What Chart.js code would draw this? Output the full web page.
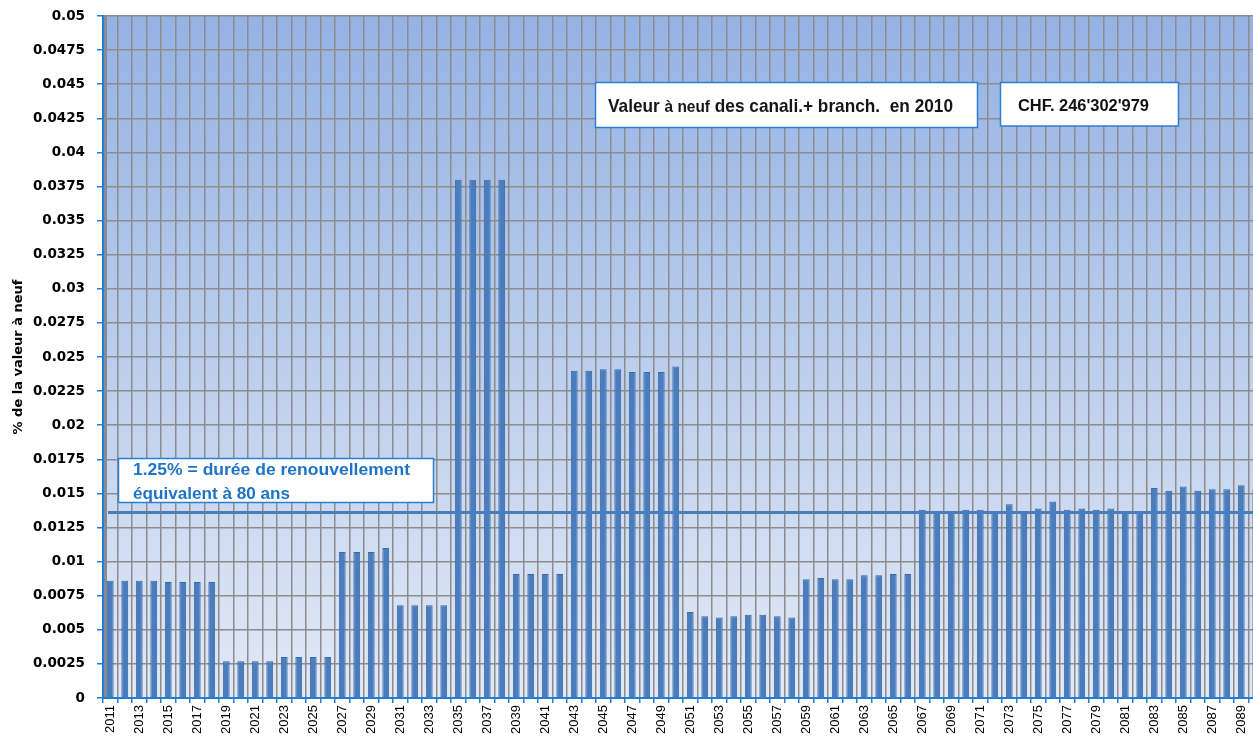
<!DOCTYPE html>
<html><head><meta charset="utf-8">
<script src="https://cdn.jsdelivr.net/npm/chart.js@4.4.1/dist/chart.umd.min.js"></script>
<style>
html,body{margin:0;padding:0;overflow:hidden;background:#fff;width:1253px;height:736px}
#wrap{position:absolute;left:0;top:0;width:1264px;height:736px}
canvas{display:block}
</style>
</head><body><div id="wrap"><canvas id="c" width="1264" height="736"></canvas></div>
<script>
const years = ['2011','2012','2013','2014','2015','2016','2017','2018','2019','2020',
  '2021','2022','2023','2024','2025','2026','2027','2028','2029','2030',
  '2031','2032','2033','2034','2035','2036','2037','2038','2039','2040',
  '2041','2042','2043','2044','2045','2046','2047','2048','2049','2050',
  '2051','2052','2053','2054','2055','2056','2057','2058','2059','2060',
  '2061','2062','2063','2064','2065','2066','2067','2068','2069','2070',
  '2071','2072','2073','2074','2075','2076','2077','2078','2079','2080',
  '2081','2082','2083','2084','2085','2086','2087','2088','2089','2090'];
const shareOfValue = [0.0086,0.0086,0.0086,0.0086,0.0085,0.0085,0.0085,0.0085,0.0027,0.0027,
  0.0027,0.0027,0.0030,0.0030,0.0030,0.0030,0.0107,0.0107,0.0107,0.0110,
  0.0068,0.0068,0.0068,0.0068,0.0380,0.0380,0.0380,0.0380,0.0091,0.0091,
  0.0091,0.0091,0.0240,0.0240,0.0241,0.0241,0.0239,0.0239,0.0239,0.0243,
  0.0063,0.0060,0.0059,0.0060,0.0061,0.0061,0.0060,0.0059,0.0087,0.0088,
  0.0087,0.0087,0.0090,0.0090,0.0091,0.0091,0.0138,0.0136,0.0136,0.0138,
  0.0138,0.0137,0.0142,0.0137,0.0139,0.0144,0.0138,0.0139,0.0138,0.0139,
  0.0137,0.0137,0.0154,0.0152,0.0155,0.0152,0.0153,0.0153,0.0156,0.0153];
const Y_MIN = 0, Y_MAX = 0.05, Y_STEP = 0.0025;
const REF_LINE = 0.0136;
const yAxisTitle = '% de la valeur à neuf';
const boxValeurParts = ['Valeur ', 'à neuf', ' des canali.+ branch.  en 2010'];
const boxCHF = "CHF. 246'302'979";
const boxRefLines = ['1.25% = durée de renouvellement', 'équivalent à 80 ans'];

const BLUE_AXIS = '#1f7fd6';

function drawFitted(ctx, segments, x, baseline, targetW, color){
  let w = 0;
  segments.forEach(s => { ctx.font = s.font; s.w = ctx.measureText(s.text).width; w += s.w; });
  const sx = targetW / w;
  ctx.save();
  ctx.fillStyle = color;
  ctx.textBaseline = 'alphabetic';
  ctx.textAlign = 'left';
  ctx.translate(x, baseline);
  ctx.scale(sx, 1);
  let cx = 0;
  segments.forEach(s => { ctx.font = s.font; ctx.fillText(s.text, cx, 0); cx += s.w; });
  ctx.restore();
}
function drawBox(ctx, x, y, w, h){
  ctx.save();
  ctx.fillStyle = '#ffffff';
  ctx.fillRect(x, y, w, h);
  ctx.strokeStyle = '#2a7fd4';
  ctx.lineWidth = 1.5;
  ctx.strokeRect(x, y, w, h);
  ctx.restore();
}

const bgPlugin = {
  id: 'bg',
  beforeDraw(chart){
    const {ctx, chartArea: a} = chart;
    const g = ctx.createLinearGradient(0, a.top, 0, a.bottom);
    g.addColorStop(0, '#94b2e3');
    g.addColorStop(1, '#e2e9f6');
    ctx.save();
    ctx.fillStyle = g;
    ctx.fillRect(a.left, a.top, a.right - a.left, a.bottom - a.top);
    ctx.fillStyle = '#858c96';
    ctx.fillRect(a.left, a.top, 4, a.bottom - a.top);
    ctx.restore();
  }
};
const refLinePlugin = {
  id: 'refLine',
  afterDatasetsDraw(chart){
    const {ctx, chartArea: a, scales: {y}} = chart;
    const py = y.getPixelForValue(REF_LINE);
    ctx.save();
    ctx.strokeStyle = '#4a7ebb';
    ctx.lineWidth = 3;
    ctx.beginPath();
    ctx.moveTo(a.left + 5, py);
    ctx.lineTo(a.right, py);
    ctx.stroke();
    ctx.restore();
  }
};
const boxPlugin = {
  id: 'boxes',
  afterDraw(chart){
    const ctx = chart.ctx;
    const F = '"Liberation Sans", Arial, sans-serif';
    drawBox(ctx, 595.5, 82.5, 382, 45);
    drawFitted(ctx, [
      {text: boxValeurParts[0], font: 'bold 19px ' + F},
      {text: boxValeurParts[1], font: 'bold 17px ' + F},
      {text: boxValeurParts[2], font: 'bold 19px ' + F}
    ], 608, 112, 345, '#161616');
    drawBox(ctx, 1000.5, 82.5, 178, 43.5);
    drawFitted(ctx, [{text: boxCHF, font: 'bold 16px ' + F}], 1018, 111, 131, '#111111');
    drawBox(ctx, 118.5, 458.5, 315, 44);
    drawFitted(ctx, [{text: boxRefLines[0], font: 'bold 17px ' + F}], 133, 475, 277, '#1f73c6');
    drawFitted(ctx, [{text: boxRefLines[1], font: 'bold 17px ' + F}], 133, 499, 157, '#1f73c6');
  }
};

new Chart(document.getElementById('c'), {
  type: 'bar',
  data: {
    labels: years,
    datasets: [{
      data: shareOfValue,
      backgroundColor: '#4a7dbd',
      borderColor: '#3c69a3',
      borderWidth: 1,
      barPercentage: 0.47,
      categoryPercentage: 1
    }]
  },
  options: {
    responsive: false,
    animation: false,
    devicePixelRatio: 1,
    layout: {padding: {top: 16, right: 1, left: 0, bottom: 0}},
    plugins: {legend: {display: false}, tooltip: {enabled: false}},
    scales: {
      x: {
        offset: true,
        grid: {offset: true, color: '#8c8c8c', lineWidth: 1.5, tickColor: BLUE_AXIS, tickLength: 5, drawTicks: true},
        border: {color: BLUE_AXIS, width: 2},
        ticks: {
          autoSkip: false, maxRotation: 90, minRotation: 90, padding: 2, color: '#000',
          font: {family: 'Liberation Sans', size: 13},
          callback: (v, i) => (i % 2 === 0 ? years[i] : '')
        },
        afterFit: s => { s.height = 38; s.paddingLeft = 0; s.paddingRight = 0; }
      },
      y: {
        min: Y_MIN, max: Y_MAX,
        grid: {color: '#8c8c8c', lineWidth: 1.5, tickColor: BLUE_AXIS, tickLength: 6},
        border: {color: BLUE_AXIS, width: 2},
        ticks: {
          stepSize: Y_STEP, padding: 12, color: '#000',
          font: {family: 'DejaVu Sans', size: 13.5, weight: 'bold'},
          callback: v => String(+Number(v).toFixed(4))
        },
        title: {
          display: true, text: yAxisTitle, color: '#000',
          font: {family: 'DejaVu Sans', size: 13, weight: 'bold'},
          padding: {top: 11, bottom: 0}
        },
        afterFit: s => { s.width = 103; s.paddingTop = 0; s.paddingBottom = 0; }
      }
    }
  },
  plugins: [bgPlugin, refLinePlugin, boxPlugin]
});
</script>
</body></html>
